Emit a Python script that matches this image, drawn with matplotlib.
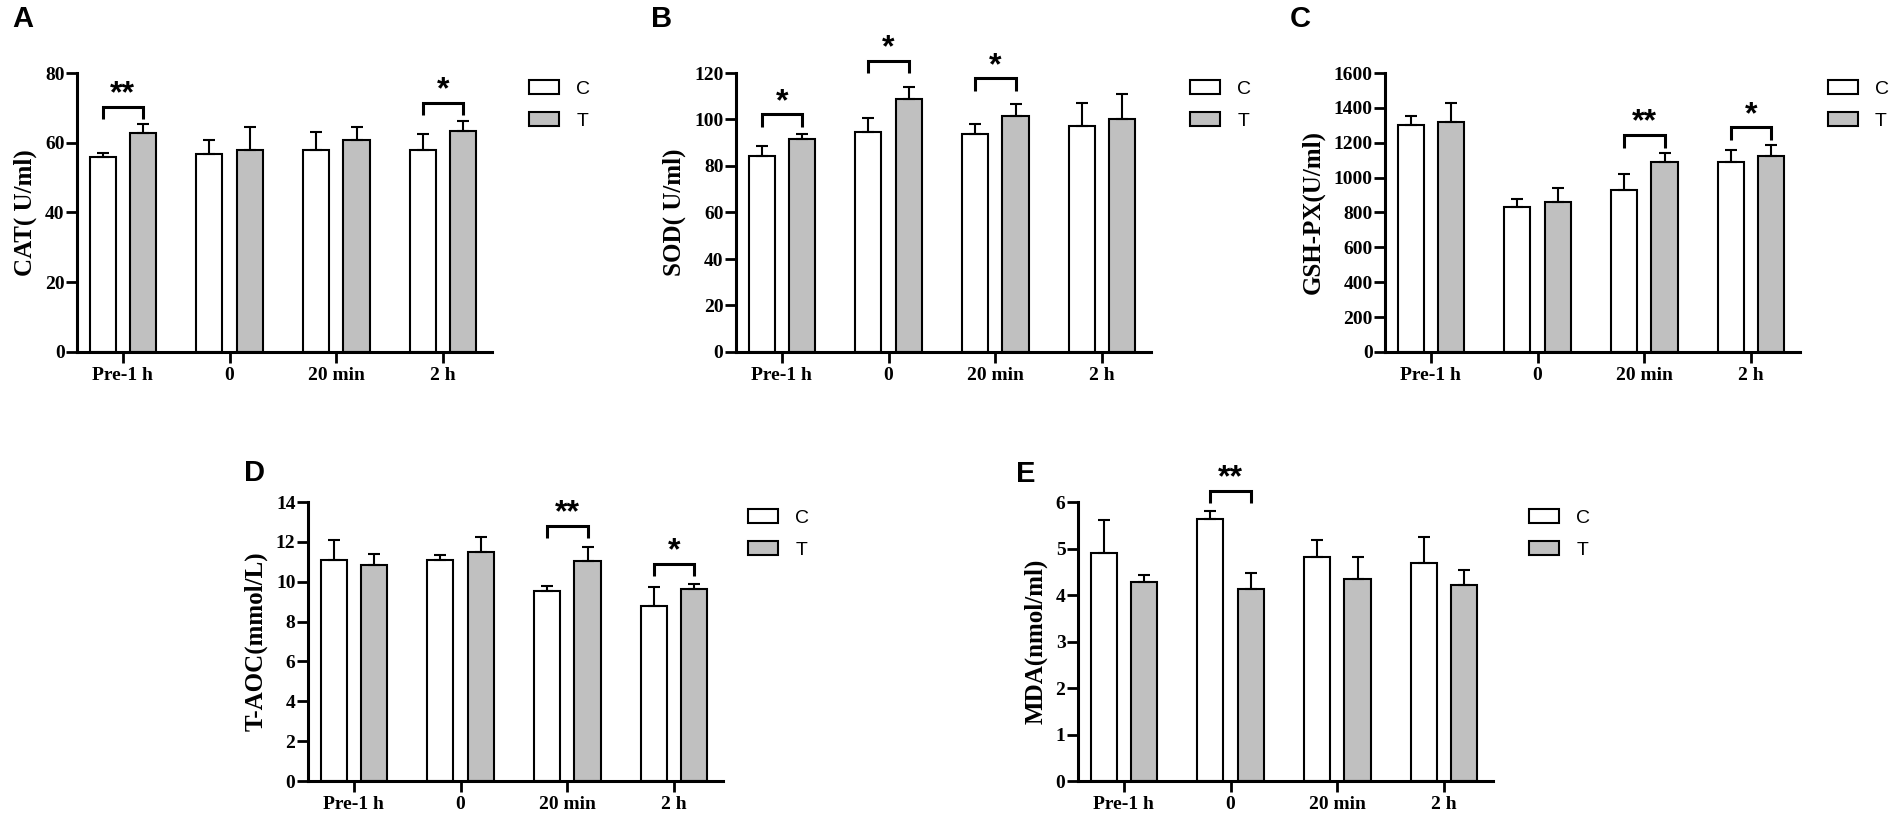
import matplotlib
matplotlib.use('Agg')
import matplotlib.pyplot as plt
from matplotlib.patches import Patch
from matplotlib.transforms import offset_copy
import numpy as np

plt.rcParams['font.family'] = ['Liberation Serif', 'DejaVu Serif']
plt.rcParams['font.weight'] = 'bold'

# time points
groups = ['Pre-1 h', '0', '20 min', '2 h']

# CAT (U/ml)
cat_c = [56.0, 56.7, 58.0, 58.0]
cat_c_err = [1.1, 4.0, 5.0, 4.5]
cat_t = [62.7, 58.0, 60.8, 63.5]
cat_t_err = [2.8, 6.5, 3.7, 2.8]

# SOD (U/ml)
sod_c = [84.3, 94.5, 93.8, 97.2]
sod_c_err = [4.4, 6.0, 4.1, 9.8]
sod_t = [91.8, 108.8, 101.6, 100.1]
sod_t_err = [2.0, 5.3, 5.2, 10.9]

# GSH-PX (U/ml)
gsh_c = [1300, 830, 930, 1088]
gsh_c_err = [55, 50, 90, 70]
gsh_t = [1320, 860, 1088, 1125]
gsh_t_err = [110, 78, 55, 60]

# T-AOC (mmol/L)
taoc_c = [11.1, 11.1, 9.55, 8.8]
taoc_c_err = [1.0, 0.22, 0.25, 0.92]
taoc_t = [10.85, 11.5, 11.05, 9.65]
taoc_t_err = [0.55, 0.72, 0.67, 0.25]

# MDA (nmol/ml)
mda_c = [4.9, 5.63, 4.82, 4.68]
mda_c_err = [0.72, 0.18, 0.37, 0.57]
mda_t = [4.27, 4.12, 4.34, 4.21]
mda_t_err = [0.15, 0.35, 0.47, 0.33]

# significance marks: (group index, bracket height, stars)
sig_a = [(0, 70.3, '**'), (3, 71.5, '*')]
sig_b = [(0, 102.2, '*'), (1, 125.2, '*'), (2, 117.7, '*')]
sig_c = [(2, 1244, '**'), (3, 1288, '*')]
sig_d = [(2, 12.8, '**'), (3, 10.9, '*')]
sig_e = [(1, 6.24, '**')]

W, H = 1896, 822
fig = plt.figure(figsize=(W / 100, H / 100), dpi=100)


def px_rect(left, top, bottom, width=415):
    return [left / W, 1 - bottom / H, width / W, (bottom - top) / H]


def draw_panel(ax, c, c_err, t, t_err, ymax, ystep, ylabel, sig, leg_x):
    x = np.arange(len(groups))
    off, bw = 0.19, 0.245
    ekw = dict(ecolor='black', elinewidth=1.5, capsize=4, capthick=1.5)
    ax.bar(x - off, c, bw, color='white', edgecolor='black', linewidth=1.5,
           yerr=[np.zeros(len(c)), c_err], error_kw=ekw, zorder=2)
    ax.bar(x + off, t, bw, color='#c0c0c0', edgecolor='black', linewidth=1.5,
           yerr=[np.zeros(len(t)), t_err], error_kw=ekw, zorder=2)

    ax.set_xlim(-0.43, 3.46)
    ax.set_ylim(0, ymax)
    ax.set_yticks(np.arange(0, ymax + ystep / 2, ystep))
    ax.set_xticks(x)
    ax.set_xticklabels(groups)
    ax.set_ylabel(ylabel, fontsize=18, fontweight='bold', labelpad=6)
    for s in ['top', 'right']:
        ax.spines[s].set_visible(False)
    for s in ['left', 'bottom']:
        ax.spines[s].set_linewidth(2.2)
    ax.tick_params(axis='both', direction='out', length=8, width=2,
                   labelsize=14)
    ax.tick_params(axis='y', pad=1)
    ax.tick_params(axis='x', pad=3)

    # brackets + stars
    leg = 0.045 * ymax
    star_tr = offset_copy(ax.transData, fig=fig, y=-10, units='points')
    for g, yb, lab in sig:
        x0, x1 = g - off, g + off
        ax.plot([x0, x0, x1, x1], [yb - leg, yb, yb, yb - leg], color='black',
                lw=2.2, clip_on=False, solid_joinstyle='miter',
                solid_capstyle='butt')
        ax.text(g, yb + 0.066 * ymax, lab, ha='center', va='baseline',
                fontsize=23, fontweight='bold', family='Liberation Sans',
                transform=star_tr, clip_on=False)

    handles = [Patch(facecolor='white', edgecolor='black', linewidth=1.5),
               Patch(facecolor='#c0c0c0', edgecolor='black', linewidth=1.5)]
    ax.legend(handles, ['C', 'T'], loc='upper left',
              bbox_to_anchor=(leg_x, 0.975), frameon=False,
              handlelength=1.55, handleheight=0.7, handletextpad=0.88,
              labelspacing=0.75, borderpad=0, borderaxespad=0,
              prop={'family': 'Liberation Sans', 'weight': 'normal',
                    'size': 14})


ax_a = fig.add_axes(px_rect(77, 73, 352))
ax_b = fig.add_axes(px_rect(736, 73, 352))
ax_c = fig.add_axes(px_rect(1385, 73, 352))
ax_d = fig.add_axes(px_rect(308, 502, 781))
ax_e = fig.add_axes(px_rect(1078, 502, 781))

draw_panel(ax_a, cat_c, cat_c_err, cat_t, cat_t_err, 80, 20,
           'CAT( U/ml)', sig_a, 1.089)
draw_panel(ax_b, sod_c, sod_c_err, sod_t, sod_t_err, 120, 20,
           'SOD( U/ml)', sig_b, 1.094)
draw_panel(ax_c, gsh_c, gsh_c_err, gsh_t, gsh_t_err, 1600, 200,
           'GSH-PX(U/ml)', sig_c, 1.067)
draw_panel(ax_d, taoc_c, taoc_c_err, taoc_t, taoc_t_err, 14, 2,
           'T-AOC(mmol/L)', sig_d, 1.06)
draw_panel(ax_e, mda_c, mda_c_err, mda_t, mda_t_err, 6, 1,
           'MDA(nmol/ml)', sig_e, 1.087)

# panel letters
for lab, xp, yp in [('A', 12, 5), ('B', 651, 5), ('C', 1290, 5),
                    ('D', 244, 459), ('E', 1016, 460)]:
    fig.text(xp / W, 1 - yp / H, lab, ha='left', va='top', fontsize=21,
             fontweight='bold', family='Liberation Sans')

fig.savefig('out.png', dpi=100)
